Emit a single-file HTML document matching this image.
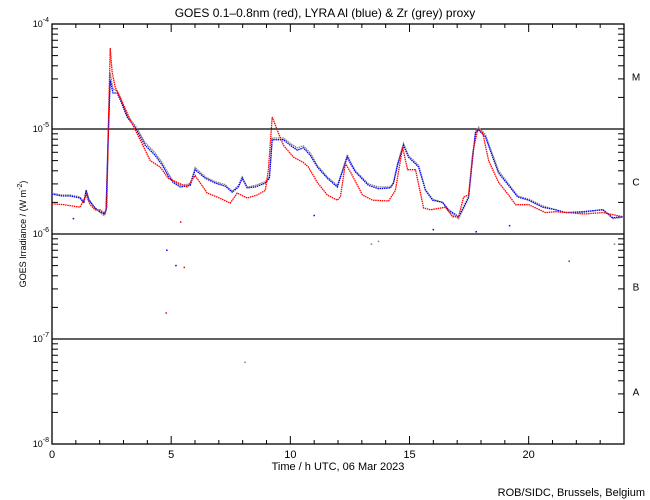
<!DOCTYPE html>
<html><head><meta charset="utf-8"><style>
html,body{margin:0;padding:0;background:#fff;}
svg{display:block;font-family:"Liberation Sans",sans-serif;}
</style></head><body>
<svg id="chart" width="650" height="500" viewBox="0 0 650 500">
<rect width="650" height="500" fill="#fff"/>
<g id="axes"></g>
<g id="series"></g>
<text x="325" y="17" font-size="12" text-anchor="middle">GOES 0.1–0.8nm (red), LYRA Al (blue) &amp; Zr (grey) proxy</text>
<text x="338" y="470" font-size="11" text-anchor="middle">Time / h UTC, 06 Mar 2023</text>
<text x="0" y="0" font-size="9" text-anchor="middle" transform="translate(26,234) rotate(-90)">GOES Irradiance / (W m<tspan dy="-4" font-size="7">-2</tspan><tspan dy="4">)</tspan></text>
<text x="645" y="496" font-size="11" text-anchor="end">ROB/SIDC, Brussels, Belgium</text>
</svg>
<script>
const xTicks = [0, 5, 10, 15, 20];
const yDecades = [-4, -5, -6, -7, -8];
const classLabels = ["M", "C", "B", "A"];
const classMids = [-4.5, -5.5, -6.5, -7.5];

const goesHours = [0,0.5,1.18,1.43,1.6,1.81,2.02,2.23,2.3,2.38,2.44,2.52,2.65,2.86,3.28,3.7,4.12,4.54,4.87,5.67,6.01,6.51,6.93,7.48,7.77,8.19,8.61,8.95,9.08,9.24,9.45,9.71,10.13,10.55,10.76,11.13,11.55,11.97,12.1,12.31,12.52,13.03,13.45,14.12,14.41,14.71,14.92,15.25,15.59,15.88,16.51,16.81,17.06,17.27,17.48,17.65,17.86,18.07,18.32,18.74,19.16,19.45,20.0,20.71,21.13,21.68,22.3,23.11,23.95];
const goesFlux = [1.94e-6,1.9e-6,1.8e-6,2.35e-6,1.9e-6,1.7e-6,1.7e-6,1.56e-6,1.8e-6,1.5e-5,5.9e-5,3.5e-5,2.5e-5,2.0e-5,1.22e-5,7.9e-6,5.0e-6,4.35e-6,3.4e-6,2.8e-6,3.6e-6,2.45e-6,2.25e-6,1.97e-6,2.45e-6,2.2e-6,2.35e-6,2.6e-6,4.1e-6,1.3e-5,9.8e-6,7.0e-6,5.4e-6,4.8e-6,4.35e-6,3.1e-6,2.35e-6,2.1e-6,2.25e-6,4.7e-6,3.9e-6,2.35e-6,2.1e-6,2.06e-6,2.6e-6,6.7e-6,4.1e-6,4.1e-6,1.77e-6,1.7e-6,1.8e-6,1.46e-6,1.46e-6,2.25e-6,2.35e-6,5.9e-6,1.0e-5,9.2e-6,5.0e-6,3.1e-6,2.35e-6,1.9e-6,1.9e-6,1.6e-6,1.63e-6,1.6e-6,1.55e-6,1.6e-6,1.46e-6];

const alHours = [0,0.42,0.76,1.18,1.34,1.43,1.55,1.81,2.02,2.18,2.27,2.35,2.44,2.56,2.73,2.86,3.15,3.53,3.91,4.33,4.62,4.87,5.08,5.38,5.8,6.01,6.43,6.85,7.27,7.56,7.82,7.98,8.19,8.53,8.95,9.12,9.24,9.37,9.71,10.0,10.29,10.55,10.84,11.13,11.55,11.97,12.18,12.39,12.52,12.73,13.28,13.7,14.2,14.33,14.5,14.75,14.96,15.38,15.67,15.97,16.39,16.64,17.06,17.27,17.48,17.65,17.77,17.9,18.19,18.49,18.74,19.16,19.54,20.0,20.59,21.13,21.55,22.27,23.11,23.53,23.95];
const alFlux = [2.4e-6,2.3e-6,2.3e-6,2.2e-6,1.97e-6,2.6e-6,2.1e-6,1.77e-6,1.63e-6,1.56e-6,1.7e-6,7e-6,2.9e-5,2.2e-5,2.2e-5,1.9e-5,1.3e-5,1.0e-5,7.0e-6,5.6e-6,4.55e-6,3.6e-6,3.1e-6,2.8e-6,2.9e-6,4.1e-6,3.4e-6,3.05e-6,2.85e-6,2.5e-6,2.8e-6,3.4e-6,2.75e-6,2.8e-6,3.05e-6,3.4e-6,7.9e-6,7.9e-6,7.9e-6,7.0e-6,6.3e-6,6.6e-6,5.6e-6,4.35e-6,3.4e-6,2.8e-6,3.9e-6,5.4e-6,4.7e-6,3.9e-6,2.9e-6,2.7e-6,2.75e-6,3.05e-6,4.55e-6,7.0e-6,5.4e-6,4.35e-6,2.6e-6,2.1e-6,2.0e-6,1.7e-6,1.46e-6,1.8e-6,2.25e-6,5.4e-6,9.2e-6,9.8e-6,8.4e-6,5.4e-6,3.8e-6,2.9e-6,2.25e-6,2.1e-6,1.8e-6,1.7e-6,1.6e-6,1.63e-6,1.7e-6,1.43e-6,1.46e-6];

const zrHours = [0,0.42,0.76,1.18,1.34,1.43,1.55,1.81,2.02,2.18,2.27,2.35,2.44,2.56,2.73,2.86,3.15,3.53,3.91,4.33,4.62,4.87,5.08,5.38,5.8,6.01,6.43,6.85,7.27,7.56,7.82,7.98,8.19,8.53,8.95,9.12,9.24,9.37,9.71,10.0,10.29,10.55,10.84,11.13,11.55,11.97,12.18,12.39,12.52,12.73,13.28,13.7,14.2,14.33,14.5,14.75,14.96,15.38,15.67,15.97,16.39,16.64,17.06,17.27,17.48,17.65,17.77,17.9,18.19,18.49,18.74,19.16,19.54,20.0,20.59,21.13,21.55,22.27,23.11,23.53,23.95];
const zrFlux = [2.45e-6,2.35e-6,2.35e-6,2.25e-6,2.0e-6,2.65e-6,2.15e-6,1.75e-6,1.6e-6,1.5e-6,1.7e-6,8e-6,3.4e-5,2.4e-5,2.3e-5,2.0e-5,1.35e-5,1.05e-5,7.4e-6,5.9e-6,4.8e-6,3.8e-6,3.2e-6,2.9e-6,3.0e-6,4.3e-6,3.5e-6,3.15e-6,2.95e-6,2.55e-6,2.9e-6,3.5e-6,2.8e-6,2.9e-6,3.15e-6,3.5e-6,8.2e-6,8.2e-6,8.2e-6,7.3e-6,6.6e-6,6.9e-6,5.9e-6,4.5e-6,3.5e-6,2.9e-6,4.0e-6,5.7e-6,4.9e-6,4.0e-6,3.0e-6,2.8e-6,2.8e-6,3.1e-6,4.7e-6,7.3e-6,5.6e-6,4.5e-6,2.65e-6,2.15e-6,2.0e-6,1.65e-6,1.4e-6,1.75e-6,2.2e-6,5.5e-6,9.5e-6,1.04e-5,8.8e-6,5.7e-6,4.0e-6,3.0e-6,2.3e-6,2.15e-6,1.85e-6,1.7e-6,1.6e-6,1.6e-6,1.72e-6,1.4e-6,1.45e-6];

const outlierHours = [4.79, 4.82, 5.2, 5.55, 8.1, 13.4, 13.7, 16.0, 17.8, 19.2, 21.7, 23.6, 0.9, 5.4, 11.0];
const outlierFlux = [1.77e-7, 7e-7, 5e-7, 4.8e-7, 6e-8, 8e-7, 8.5e-7, 1.1e-6, 1.05e-6, 1.2e-6, 5.5e-7, 8e-7, 1.4e-6, 1.3e-6, 1.5e-6];
const outlierColors = ["#ff0000","#0000ff","#0000ff","#ff0000","#808080","#808080","#808080","#0000ff","#0000ff","#0000ff","#ff0000","#808080","#0000ff","#ff0000","#0000ff"];

const X0 = 52, X1 = 624, Y0 = 24, Y1 = 444;
function xs(h){ return X0 + (h/24)*(X1-X0); }
function ys(v){ const l = Math.log10(v); return Y0 + (-4 - l)/4*(Y1-Y0); }
function yl(l){ return Y0 + (-4 - l)/4*(Y1-Y0); }

const NS = "http://www.w3.org/2000/svg";
const axes = document.getElementById('axes');
const series = document.getElementById('series');
function mk(tag, attrs, parent){ const e = document.createElementNS(NS, tag); for (const k in attrs) e.setAttribute(k, attrs[k]); parent.appendChild(e); return e; }

const frame = mk('rect', {x:X0, y:Y0, width:X1-X0, height:Y1-Y0, fill:'none', stroke:'#000', 'stroke-width':1.3}, axes);



for (let h = 0; h <= 24; h++) {
  const major = xTicks.indexOf(h) >= 0;
  const len = major ? 8 : 4;
  const tb = mk('line', {x1:xs(h), x2:xs(h), y1:Y1, y2:Y1-len, stroke:'#000'}, axes);
  
  
  const tt = mk('line', {x1:xs(h), x2:xs(h), y1:Y0, y2:Y0+len, stroke:'#000'}, axes);
  
  
}
xTicks.forEach(h => {
  const t = mk('text', {x:xs(h), y:Y1+14, 'font-size':11, 'text-anchor':'middle'}, axes);
  t.textContent = String(h);
  
  
});

yDecades.forEach((d, i) => {
  const y = yl(d);
  if (d !== -4 && d !== -8) {
    const gl = mk('line', {x1:X0, x2:X1, y1:y, y2:y, stroke:'#000', 'stroke-width':1.2}, axes);
    
    
  }
  const t = mk('text', {x:X0-3, y:y+3, 'font-size':9, 'text-anchor':'end'}, axes);
  t.innerHTML = '10<tspan dy="-5" font-size="7">' + d + '</tspan>';
  
  
  if (d > -8) {
    for (let m = 2; m <= 9; m++) {
      const yy = yl(d - 1 + Math.log10(m));
      const a = mk('line', {x1:X0, x2:X0+6, y1:yy, y2:yy, stroke:'#000'}, axes);
      
      
      const b = mk('line', {x1:X1, x2:X1-6, y1:yy, y2:yy, stroke:'#000'}, axes);
      
      
    }
  }
});
classLabels.forEach((c, i) => {
  const t = mk('text', {x:636, y:yl(classMids[i])+4, 'font-size':10, 'text-anchor':'middle'}, axes);
  t.textContent = c;
  
  
});

function drawSeries(hours, flux, color, name){
  const pts = hours.map((h, i) => xs(h).toFixed(1) + ',' + ys(flux[i]).toFixed(1)).join(' ');
  const p = mk('polyline', {points:pts, fill:'none', stroke:color, 'stroke-width':1.3, 'stroke-dasharray':'1.5 0.7'}, series);
  
  
}
drawSeries(zrHours, zrFlux, '#808080', 'lyra-zr-series');
drawSeries(alHours, alFlux, '#0000ff', 'lyra-al-series');
drawSeries(goesHours, goesFlux, '#ff0000', 'goes-series');

outlierHours.forEach((h, i) => {
  const r = mk('rect', {x:xs(h)-0.75, y:ys(outlierFlux[i])-0.75, width:1.5, height:1.5, fill:outlierColors[i]}, series);
  
  
});
</script>
</body></html>
